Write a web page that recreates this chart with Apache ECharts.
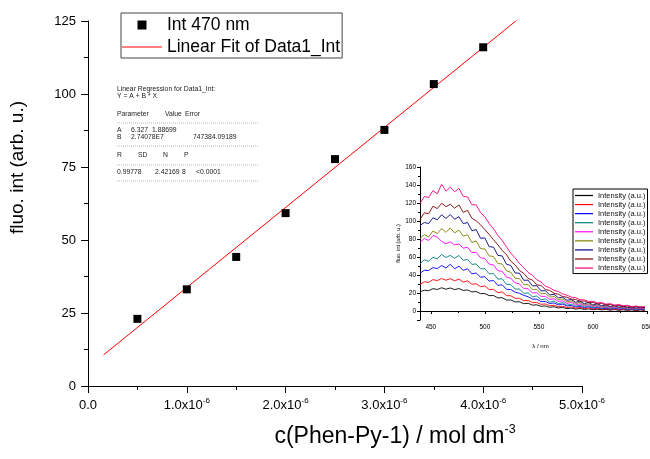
<!DOCTYPE html>
<html>
<head>
<meta charset="utf-8">
<script src="https://cdn.jsdelivr.net/npm/echarts@6/dist/echarts.min.js"></script>
<style>
html, body { margin: 0; padding: 0; background: #ffffff; }
#chart { width: 650px; height: 459px; }
</style>
</head>
<body>
<div id="chart"></div>
<script>
// ---- Titration data: fluorescence at 470 nm vs. concentration ----
const concentration = [0.5e-6, 1.0e-6, 1.5e-6, 2.0e-6, 2.5e-6, 3.0e-6, 3.5e-6, 4.0e-6];
const int470 = [23.0, 33.1, 44.2, 59.2, 77.7, 87.7, 103.4, 116.0];

// Linear fit parameters (Y = A + B * X) and the x-range the fit is drawn over
const fitA = 6.327;
const fitB = 2.74078e7;
const fitRange = [0.157e-6, 4.4e-6];

// Main axis tick labels
const concTickMantissa = ['0.0', '1.0x10', '2.0x10', '3.0x10', '4.0x10', '5.0x10'];
const concTickExponent = ['', '-6', '-6', '-6', '-6', '-6'];
const intTicks = [0, 25, 50, 75, 100, 125];

// Regression report text
const regHeader = ['Linear Regression for Data1_Int:', 'Y = A + B * X'];
const regParamHead = ['Parameter', 'Value', 'Error'];
const regRowA = ['A', '6.327', '1.88699'];
const regRowB = ['B', '2.74078E7', '747384.09189'];
const regStatHead = ['R', 'SD', 'N', 'P'];
const regStatRow = ['0.99778', '2.42169', '8', '<0.0001'];

// ---- Emission spectra (inset) ----
const wavelengths = [440,444,448,452,456,460,464,468,472,476,480,484,488,492,496,500,504,508,512,516,520,524,528,532,536,540,544,548,552,556,560,564,568,572,576,580,584,588,592,596,600,604,608,612,616,620,624,628,632,636,640,644,648];
const specBlack = [21.3,23.1,22.6,24.8,23.9,25.8,24.2,25.6,23.8,24.9,22.9,23.4,21.2,21.6,19.3,19.4,17.1,17.2,14.6,14.8,12.2,12.3,10.1,10.2,8.1,8.6,6.5,6.9,5.2,5.6,4.1,4.7,3.4,4.0,2.6,3.2,2.1,2.8,1.7,2.4,1.4,2.1,1.2,1.8,0.9,1.6,0.8,1.4,0.7,1.3,0.5,1.2,0.6];
const specRed = [29.6,32.4,31.8,34.9,33.7,36.1,34.2,35.9,33.6,35.4,32.1,33.5,29.8,30.2,27.1,27.9,23.8,24.1,20.3,21.2,17.1,16.9,14.2,14.1,11.5,11.8,9.3,9.4,7.4,7.8,5.9,6.4,4.8,5.3,3.9,4.5,3.1,3.9,2.6,3.4,2.1,3.0,1.8,2.6,1.5,2.3,1.2,2.1,1.1,1.9,0.8,1.7,0.9];
const specBlue = [42.0,45.3,44.9,48.2,47.1,50.6,47.8,51.9,46.9,49.8,45.2,46.9,41.3,42.2,37.6,38.1,33.2,33.9,28.4,29.1,24.1,23.8,20.9,19.7,17.4,15.9,13.2,13.1,10.4,10.6,8.3,8.9,6.8,7.7,5.6,6.2,4.4,5.3,3.7,4.7,3.1,4.0,2.6,3.4,2.1,3.2,1.9,2.8,1.6,2.5,1.3,2.2,1.4];
const specTeal = [52.4,56.8,55.1,59.7,58.0,62.9,59.4,61.8,58.6,61.7,56.2,57.4,51.8,52.3,46.9,47.0,41.3,41.6,35.4,35.8,29.6,29.4,24.3,24.5,19.6,20.1,15.8,16.7,12.5,13.4,9.8,11.0,8.1,9.3,6.4,7.6,5.2,6.5,4.3,5.9,3.5,5.0,2.9,4.4,2.4,3.9,2.1,3.4,1.7,3.0,1.4,2.8,1.6];
const specMagenta = [76.2,80.5,78.4,83.9,82.1,77.3,74.6,76.8,73.5,74.4,69.8,70.9,64.8,65.2,59.1,58.3,52.1,51.2,44.8,44.1,37.6,36.4,31.2,30.1,24.9,24.7,20.1,20.4,16.2,16.3,12.8,13.6,10.6,11.2,8.4,9.6,6.9,8.0,5.8,7.1,4.8,6.2,4.1,5.4,3.5,4.6,2.9,4.1,2.6,3.6,2.2,3.3,2.5];
const specOlive = [80.6,84.8,82.3,88.9,86.1,91.7,87.4,92.3,86.8,89.9,83.2,84.7,76.1,77.8,69.4,68.9,61.2,60.6,52.7,52.3,44.5,43.1,36.4,36.0,29.4,29.3,23.9,24.1,19.1,19.6,15.4,16.1,12.7,13.3,10.1,11.2,8.3,9.5,6.8,8.1,5.6,7.2,4.9,6.1,4.2,5.5,3.7,4.8,3.0,4.3,2.8,3.8,3.1];
const specNavy = [95.1,98.3,97.2,103.6,101.4,106.9,102.8,107.2,101.9,104.8,97.1,98.3,89.2,90.4,80.8,81.2,71.4,71.0,61.8,61.2,51.9,50.6,42.3,42.0,34.1,34.3,27.9,28.1,22.3,22.6,17.8,18.6,14.7,15.3,11.9,12.8,9.7,10.9,8.1,9.6,6.6,8.3,5.7,7.1,4.9,6.3,4.2,5.6,3.6,5.0,3.2,4.6,3.5];
const specMaroon = [101.6,109.2,108.1,116.4,113.8,119.7,115.9,118.6,114.3,117.9,109.6,111.8,103.1,100.2,95.8,90.4,85.1,79.2,73.6,67.4,62.5,55.3,51.2,45.1,41.8,36.2,34.4,29.1,28.3,23.9,22.8,19.7,18.6,16.1,15.3,13.2,12.8,11.0,11.1,9.4,9.6,7.9,8.4,6.8,7.3,5.8,6.4,5.1,5.5,4.4,5.0,3.9,4.3];
const specPink = [119.4,127.3,126.1,133.8,130.2,140.9,133.1,137.6,132.4,136.2,127.3,126.8,118.1,117.9,109.3,104.6,97.2,91.3,84.1,78.2,71.3,64.1,59.2,52.8,48.1,42.9,39.6,34.8,32.2,27.6,25.8,22.9,21.7,18.8,17.6,15.3,14.9,12.5,12.4,10.6,10.8,8.9,9.5,7.6,8.2,6.5,7.3,5.7,6.4,4.8,5.6,4.3,4.9];

const spectra = [specBlack, specRed, specBlue, specTeal, specMagenta, specOlive, specNavy, specMaroon, specPink];
const spectraColors = ['#000000', '#ff0000', '#0000ff', '#008080', '#ff00ff', '#808000', '#000080', '#800000', '#ff0080'];
const spectrumLabel = 'Intensity (a.u.)';

// ---- Build options ----
const FONT = '"Liberation Sans", Arial, sans-serif';
const scatterName = 'Int 470 nm';
const fitName = 'Linear Fit of Data1_Int';

// Every spectrum shares the same visible label; zero-width spaces keep legend entries distinct
const spectrumNames = spectra.map((_, i) => spectrumLabel + '\u200b'.repeat(i + 1));

const fitData = fitRange.map(x => [x, fitA + fitB * x]);
const scatterData = concentration.map((c, i) => [c, int470[i]]);

const spectrumSeries = spectra.map((vals, i) => ({
  name: spectrumNames[i],
  type: 'line',
  xAxisIndex: 1,
  yAxisIndex: 1,
  data: wavelengths.map((w, j) => [w, vals[j]]),
  symbol: 'none',
  lineStyle: { color: spectraColors[i], width: 0.9 },
  itemStyle: { color: spectraColors[i] },
  z: 3
}));

// Regression report drawn as plain text rows
const regX0 = 117;
const regGraphic = [];
function regText(x, y, t) {
  regGraphic.push({
    type: 'text', x: x, y: y, silent: true,
    style: { text: t, font: '6.8px ' + FONT, fill: '#222', verticalAlign: 'middle', align: 'left' }
  });
}
function regRule(y) {
  regGraphic.push({
    type: 'line', silent: true,
    shape: { x1: regX0, y1: y, x2: 258, y2: y },
    style: { stroke: '#999', lineWidth: 0.7, lineDash: [1, 1] }
  });
}
regText(regX0, 89.5, regHeader[0]);
regText(regX0, 96.5, regHeader[1]);
regText(regX0, 114, regParamHead[0]);
regText(165, 114, regParamHead[1]);
regText(185, 114, regParamHead[2]);
regRule(123);
regText(regX0, 130.5, regRowA[0]);
regText(131, 130.5, regRowA[1]);
regText(152, 130.5, regRowA[2]);
regText(regX0, 137.5, regRowB[0]);
regText(131, 137.5, regRowB[1]);
regText(193, 137.5, regRowB[2]);
regRule(146);
regText(regX0, 155, regStatHead[0]);
regText(138, 155, regStatHead[1]);
regText(163, 155, regStatHead[2]);
regText(184, 155, regStatHead[3]);
regRule(165);
regText(regX0, 172, regStatRow[0]);
regText(155, 172, regStatRow[1]);
regText(182, 172, regStatRow[2]);
regText(196, 172, regStatRow[3]);
regRule(181);

const axisBlack = { lineStyle: { color: '#000', width: 1 } };

const option = {
  animation: false,
  backgroundColor: '#ffffff',
  textStyle: { fontFamily: FONT, color: '#000' },
  grid: [
    { left: 88, top: 21, width: 494, height: 365, outerBoundsMode: 'none', containLabel: false },
    { left: 420, top: 167, width: 227, height: 153, outerBoundsMode: 'none', containLabel: false }
  ],
  xAxis: [
    {
      type: 'value', gridIndex: 0, min: 0, max: 5e-6, interval: 1e-6,
      axisLine: axisBlack,
      axisTick: { show: true, length: 7, lineStyle: { color: '#000' } },
      minorTick: { show: true, splitNumber: 2, length: 4, lineStyle: { color: '#000' } },
      splitLine: { show: false },
      axisLabel: {
        margin: 11, color: '#000',
        formatter: v => {
          const k = Math.round(v / 1e-6);
          return concTickExponent[k] ? '{n|' + concTickMantissa[k] + '}{s|' + concTickExponent[k] + '}' : '{n|' + concTickMantissa[k] + '}';
        },
        rich: {
          n: { fontSize: 13, lineHeight: 16, fontFamily: FONT, color: '#000' },
          s: { fontSize: 8, lineHeight: 9, verticalAlign: 'top', fontFamily: FONT, color: '#000' }
        }
      },
      name: '{t|c(Phen-Py-1) / mol dm}{s|-3}',
      nameLocation: 'middle', nameGap: 37,
      nameTextStyle: {
        padding: [0, 0, 0, 120],
        rich: {
          t: { fontSize: 23, lineHeight: 28, fontFamily: FONT, color: '#000' },
          s: { fontSize: 12.5, lineHeight: 14, verticalAlign: 'top', fontFamily: FONT, color: '#000' }
        }
      }
    },
    {
      type: 'value', gridIndex: 1, min: 440, max: 650, splitNumber: 4,
      axisLine: axisBlack,
      axisTick: { show: true, length: 3, lineStyle: { color: '#000' } },
      minorTick: { show: true, splitNumber: 2, length: 2, lineStyle: { color: '#000' } },
      splitLine: { show: false },
      axisLabel: { fontSize: 6.5, margin: 4, color: '#000', showMinLabel: false },
      name: 'λ / nm', nameLocation: 'middle', nameGap: 23,
      nameTextStyle: { fontSize: 6, color: '#000', padding: [0, 0, 0, 14] }
    }
  ],
  yAxis: [
    {
      type: 'value', gridIndex: 0, min: intTicks[0], max: intTicks[intTicks.length - 1], interval: 25,
      axisLine: axisBlack,
      axisTick: { show: true, length: 7, lineStyle: { color: '#000' } },
      minorTick: { show: true, splitNumber: 2, length: 4, lineStyle: { color: '#000' } },
      splitLine: { show: false },
      axisLabel: { fontSize: 13, margin: 12, color: '#000' },
      name: 'fluo. int (arb. u.)', nameLocation: 'middle', nameGap: 61,
      nameTextStyle: { fontSize: 19, color: '#000', padding: [0, 0, 0, 72] }
    },
    {
      type: 'value', gridIndex: 1, min: -10, max: 160, splitNumber: 8,
      axisLine: axisBlack,
      axisTick: { show: true, length: 3, lineStyle: { color: '#000' } },
      minorTick: { show: true, splitNumber: 2, length: 2, lineStyle: { color: '#000' } },
      splitLine: { show: false },
      axisLabel: { fontSize: 6.5, margin: 4, color: '#000', showMinLabel: false },
      name: 'fluo. int (arb. u.)', nameLocation: 'middle', nameGap: 19,
      nameTextStyle: { fontSize: 5.5, color: '#000' }
    }
  ],
  legend: [
    {
      data: [
        { name: scatterName, icon: 'path://M0,0L10,0L10,10L0,10Z' },
        { name: fitName, icon: 'path://M0,0L40,0L40,1L0,1Z' }
      ],
      orient: 'vertical', left: 121, top: 13,
      itemWidth: 40, itemHeight: 9, itemGap: 2,
      padding: [2, 2, 1, 1],
      borderColor: '#444', borderWidth: 1,
      textStyle: { fontSize: 17.5, lineHeight: 20, color: '#000', fontFamily: FONT },
      selectedMode: false
    },
    {
      data: spectrumNames,
      icon: 'path://M0,0L18,0L18,1.2L0,1.2Z',
      orient: 'vertical', left: 573, top: 189,
      itemWidth: 18, itemHeight: 8, itemGap: 1.07,
      padding: [2.5, 2, 1.5, 2],
      borderColor: '#000', borderWidth: 1,
      formatter: name => name.replace(/\u200b/g, ''),
      textStyle: { fontSize: 7.5, lineHeight: 8, color: '#111', fontFamily: FONT },
      selectedMode: false
    }
  ],
  graphic: regGraphic,
  series: [
    {
      name: fitName, type: 'line', xAxisIndex: 0, yAxisIndex: 0,
      data: fitData, symbol: 'none', clip: true,
      lineStyle: { color: '#ff0000', width: 1 },
      itemStyle: { color: '#ff0000' },
      z: 2
    },
    {
      name: scatterName, type: 'scatter', xAxisIndex: 0, yAxisIndex: 0,
      data: scatterData, symbol: 'rect', symbolSize: 8,
      itemStyle: { color: '#000000', opacity: 1 },
      z: 3
    }
  ].concat(spectrumSeries)
};

const chart = echarts.init(document.getElementById('chart'), null, { renderer: 'canvas', width: 650, height: 459 });
chart.setOption(option);
</script>
</body>
</html>
